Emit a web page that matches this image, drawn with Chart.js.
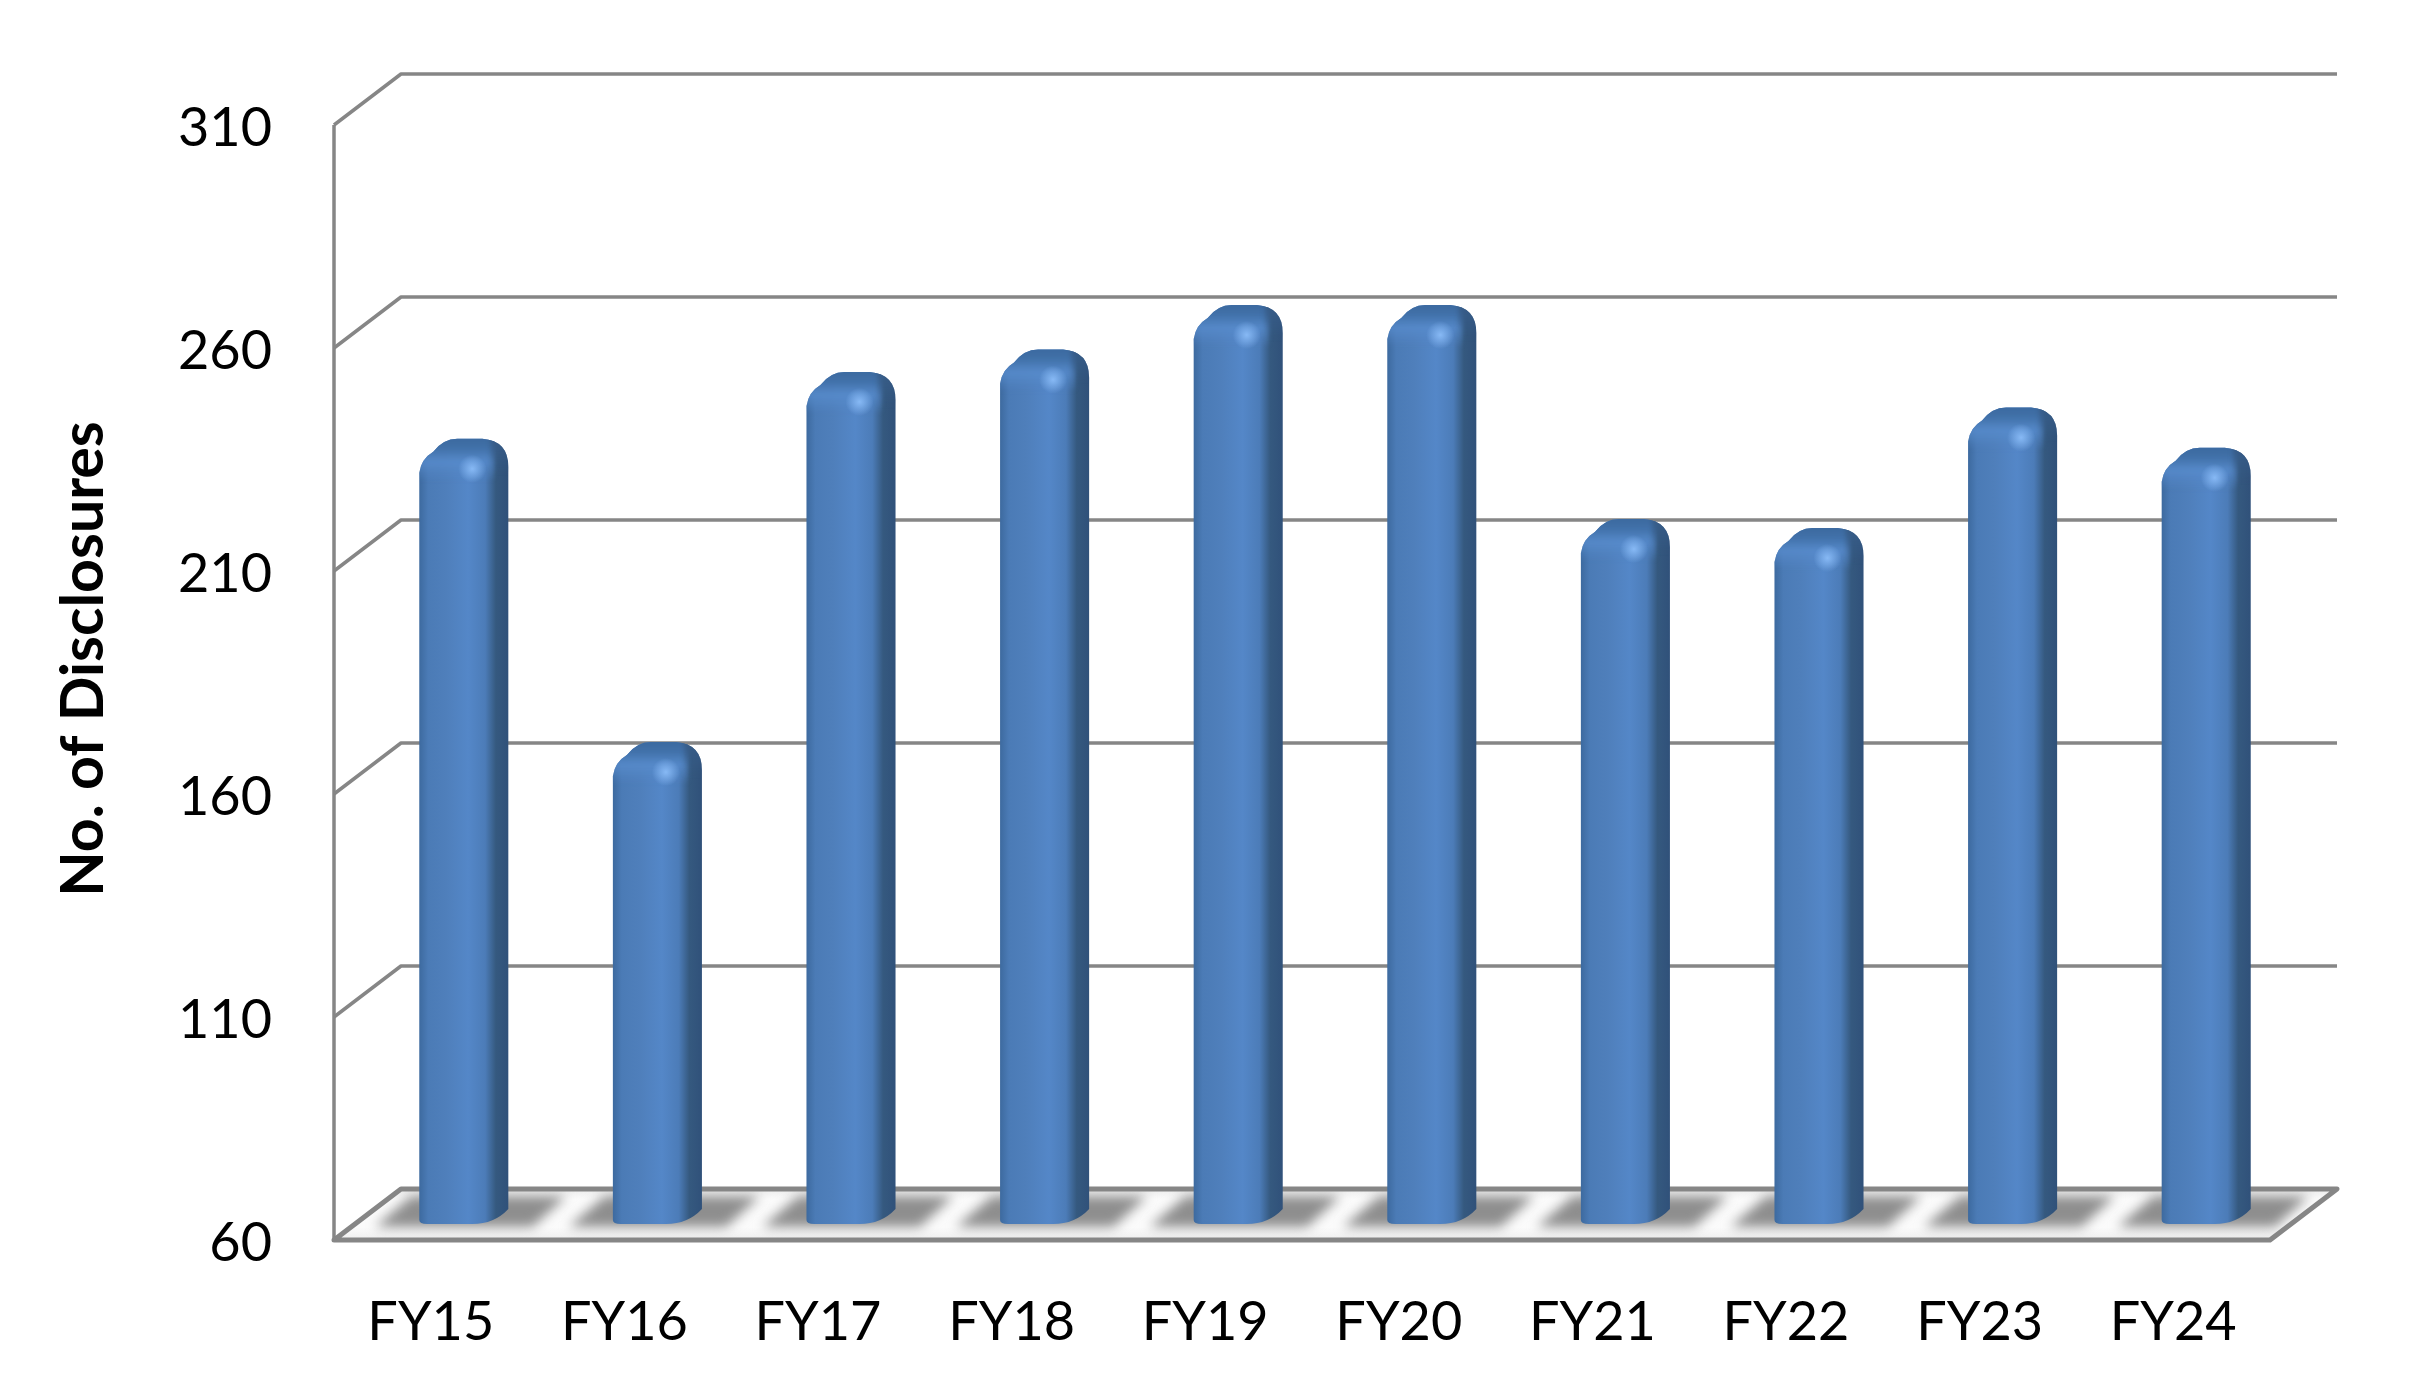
<!DOCTYPE html>
<html>
<head>
<meta charset="utf-8">
<title>No. of Disclosures</title>
<script src="https://cdn.jsdelivr.net/npm/chart.js@4/dist/chart.umd.min.js"></script>
<style>
    html, body { margin: 0; padding: 0; background: #fff; }
    canvas { display: block; }
</style>
</head>
<body>
<canvas id="chart" width="2420" height="1395"></canvas>
<script>
const categories = ['FY15', 'FY16', 'FY17', 'FY18', 'FY19', 'FY20', 'FY21', 'FY22', 'FY23', 'FY24'];
const disclosures = [230, 162, 245, 250, 260, 260, 212, 210, 237, 228];
const yMin = 60;
const yMax = 310;
const yStep = 50;
const yTitle = 'No. of Disclosures';

const fontName = 'Lato, "Open Sans", sans-serif';
const lineColor = '#868686';

// Depth of the fake 3D box, in pixels
const depthX = 67;
const depthY = 51;
const barShiftX = 33;

function line(ctx, pts, width) {
    ctx.beginPath();
    pts.forEach((p, i) => i ? ctx.lineTo(p[0], p[1]) : ctx.moveTo(p[0], p[1]));
    ctx.lineWidth = width;
    ctx.strokeStyle = lineColor;
    ctx.lineJoin = 'round';
    ctx.stroke();
}

function drawFloor(ctx, area, bars) {
    const floor = () => {
        ctx.beginPath();
        ctx.moveTo(area.left, area.bottom);
        ctx.lineTo(area.left + depthX, area.bottom - depthY);
        ctx.lineTo(area.right + depthX, area.bottom - depthY);
        ctx.lineTo(area.right, area.bottom);
        ctx.closePath();
    };

    ctx.save();
    floor();
    const fade = ctx.createLinearGradient(0, area.bottom - depthY, 0, area.bottom);
    fade.addColorStop(0, '#ececec');
    fade.addColorStop(0.2, '#fbfbfb');
    fade.addColorStop(0.75, '#fbfbfb');
    fade.addColorStop(1, '#eeeeee');
    ctx.fillStyle = fade;
    ctx.fill();
    ctx.clip();

    // Soft bar shadows lying on the floor
    ctx.filter = 'blur(6px)';
    ctx.fillStyle = '#8e8e8e';
    bars.forEach(bar => {
        const x0 = bar.x + barShiftX - bar.width / 2;
        const x1 = x0 + bar.width;
        const top = area.bottom - 44;
        const bottom = area.bottom - 13;
        ctx.beginPath();
        ctx.moveTo(x0 - 44, bottom);
        ctx.lineTo(x0 - 8, top);
        ctx.lineTo(x1 + 58, top);
        ctx.lineTo(x1 + 24, bottom);
        ctx.closePath();
        ctx.fill();
    });
    ctx.restore();

    floor();
    ctx.lineWidth = 5;
    ctx.strokeStyle = lineColor;
    ctx.lineJoin = 'round';
    ctx.stroke();
}

function barPath(ctx, x0, x1, top, base) {
    ctx.beginPath();
    ctx.moveTo(x0, base - 4);
    ctx.lineTo(x0, top + 34);
    ctx.quadraticCurveTo(x0 + 2, top + 20, x0 + 14, top + 13);
    ctx.quadraticCurveTo(x0 + 24, top, x0 + 38, top);
    ctx.lineTo(x1 - 26, top);
    ctx.quadraticCurveTo(x1, top + 2, x1, top + 28);
    ctx.lineTo(x1, base - 15);
    ctx.quadraticCurveTo(x1 - 14, base, x1 - 36, base);
    ctx.lineTo(x0 + 8, base);
    ctx.quadraticCurveTo(x0, base, x0, base - 4);
    ctx.closePath();
}

function drawBar(ctx, bar, basePx) {
    const x0 = bar.x + barShiftX - bar.width / 2;
    const x1 = x0 + bar.width;
    const top = bar.y - 43;
    const base = basePx - 16;

    barPath(ctx, x0, x1, top, base);
    const body = ctx.createLinearGradient(x0, 0, x1, 0);
    body.addColorStop(0, '#3d6a9f');
    body.addColorStop(0.1, '#4b7bb6');
    body.addColorStop(0.3, '#4f7fbb');
    body.addColorStop(0.55, '#5487c8');
    body.addColorStop(0.74, '#4c7cb8');
    body.addColorStop(0.86, '#35597f');
    body.addColorStop(1, '#30517a');
    ctx.fillStyle = body;
    ctx.fill();

    ctx.save();
    barPath(ctx, x0, x1, top, base);
    ctx.clip();

    // Bevel on top of the bar
    const cap = ctx.createLinearGradient(0, top, 0, top + 42);
    cap.addColorStop(0, 'rgba(60,106,160,1)');
    cap.addColorStop(0.25, 'rgba(66,114,170,1)');
    cap.addColorStop(0.55, 'rgba(88,140,205,0.8)');
    cap.addColorStop(1, 'rgba(84,135,200,0)');
    ctx.fillStyle = cap;
    ctx.filter = 'blur(2px)';
    ctx.fillRect(x0 - 4, top - 4, x1 - x0 - 10, 46);

    const capRight = ctx.createLinearGradient(0, top, 0, top + 34);
    capRight.addColorStop(0, 'rgba(55,92,136,1)');
    capRight.addColorStop(1, 'rgba(55,92,136,0)');
    ctx.fillStyle = capRight;
    ctx.fillRect(x1 - 18, top - 4, 24, 38);
    ctx.filter = 'none';

    // Highlight spot
    const spot = ctx.createRadialGradient(x0 + 53, top + 30, 0, x0 + 53, top + 30, 14);
    spot.addColorStop(0, 'rgba(135,185,245,1)');
    spot.addColorStop(1, 'rgba(135,185,245,0)');
    ctx.fillStyle = spot;
    ctx.fillRect(x0 + 35, top + 12, 36, 36);
    ctx.restore();
}

const box3d = {
    id: 'box3d',
    beforeDraw(chart) {
        // the reference's value labels sit a little under their tick
        chart.scales.y.getLabelItems().forEach(item => { item.textOffset += 4; });
    },
    beforeDatasetsDraw(chart) {
        const { ctx, chartArea: area, scales } = chart;
        const y = scales.y;

        ctx.save();
        // wall gridlines, skipping the floor level
        y.ticks.forEach(t => {
            if (t.value === yMin) return;
            const py = y.getPixelForValue(t.value);
            line(ctx, [[area.left, py], [area.left + depthX, py - depthY], [area.right + depthX, py - depthY]], 3.5);
        });
        line(ctx, [[area.left, area.top], [area.left, area.bottom]], 3.5);
        drawFloor(ctx, area, chart.getDatasetMeta(0).data);
        ctx.restore();
    },
    beforeDatasetDraw(chart) {
        const ctx = chart.ctx;
        const basePx = chart.scales.y.getPixelForValue(yMin);
        ctx.save();
        chart.getDatasetMeta(0).data.forEach(bar => drawBar(ctx, bar, basePx));
        ctx.restore();
        return false;
    },
    afterDraw(chart) {
        const ctx = chart.ctx;
        ctx.save();
        ctx.translate(84, 659);
        ctx.rotate(-Math.PI / 2);
        ctx.font = 'bold 59px ' + fontName;
        ctx.fillStyle = '#000';
        ctx.textAlign = 'center';
        ctx.textBaseline = 'middle';
        ctx.fillText(yTitle, 0, 0);
        ctx.restore();
    }
};

new Chart(document.getElementById('chart'), {
    type: 'bar',
    data: {
        labels: categories,
        datasets: [{ label: yTitle, data: disclosures, base: yMin, backgroundColor: '#4f81bd', barPercentage: 0.46, categoryPercentage: 1 }]
    },
    options: {
        responsive: false,
        animation: false,
        devicePixelRatio: 1,
        layout: { padding: { top: 125, right: 150, bottom: 0, left: 0 } },
        plugins: { legend: { display: false }, tooltip: { enabled: false } },
        scales: {
            x: {
                grid: { display: false, drawTicks: false },
                border: { display: false },
                ticks: { color: '#000', font: { family: fontName, size: 54 }, padding: 50, autoSkip: false, maxRotation: 0 },
                afterFit: s => { s.height = 155; }
            },
            y: {
                min: yMin,
                max: yMax,
                grid: { display: false, drawTicks: false },
                border: { display: false },
                ticks: { stepSize: yStep, color: '#000', font: { family: fontName, size: 54 }, padding: 62 },
                afterFit: s => { s.width = 334; }
            }
        }
    },
    plugins: [box3d]
});
</script>
</body>
</html>
